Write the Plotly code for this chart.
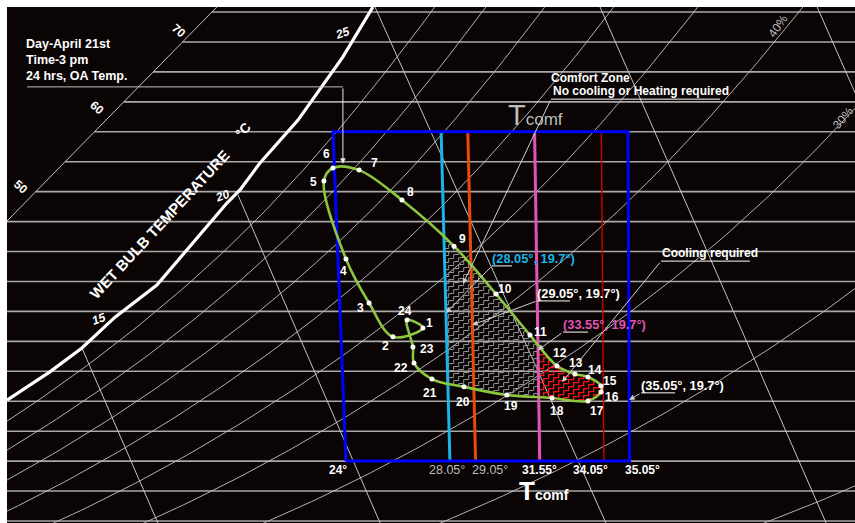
import numpy as np
import plotly.graph_objects as go

# ---------------- chart data ----------------
# Hourly outdoor-air states for April 21st (dry-bulb °C, humidity grid units)
hours = list(range(1, 25))
oa_db = [27.00, 25.83, 24.90, 24.00, 23.14, 23.49, 24.51, 26.18, 28.21, 29.85, 31.17, 32.22,
         32.92, 33.43, 33.94, 33.94, 33.43, 32.03, 30.27, 28.60, 27.35, 26.65, 26.61, 26.38]
oa_w = [7.45, 7.15, 8.28, 9.75, 12.36, 12.79, 12.72, 11.72, 10.18, 8.58, 7.21, 6.18,
        5.91, 5.81, 5.51, 5.31, 5.01, 5.11, 5.21, 5.48, 5.74, 6.28, 6.81, 7.71]

# comfort-zone dry-bulb limits and humidity limits of the box
comfort_db = [24.0, 28.05, 29.05, 31.55, 34.05, 35.05]
comfort_w = [3.0, 14.0]
comfort_tick_text = ["24°", "28.05°", "29.05°", "31.55°", "34.05°", "35.05°"]

# horizontal humidity-ratio grid
hum_lines = list(range(1, 19))

# relative-humidity curves of the background chart
rh_levels = [0.1, 0.2, 0.3, 0.4, 0.5, 0.6, 0.7, 0.8, 0.9]

# enthalpy scale
enthalpy_scale_db = [10.79, 18.97]
enthalpy_scale_w = [11.02, 18.17]
enthalpy_labels = ["50", "60", "70"]
enthalpy_label_db = [11.33, 14.30, 17.49]
enthalpy_label_w = [12.16, 14.79, 17.37]

# saturation curve
sat_db = [10.79, 12.46, 13.71, 15.00, 16.63, 17.80, 19.36, 19.87, 20.65, 22.13, 22.60, 23.88, 25.05]
sat_w = [5.04, 5.98, 6.78, 7.81, 8.88, 10.05, 11.62, 12.06, 12.96, 14.39, 14.96, 16.50, 18.17]

# wet-bulb lines (start / end)
wb_start_db = [13.71, 19.79, 25.13, 33.90, 42.36]
wb_start_w = [6.78, 11.89, 18.17, 18.17, 18.17]
wb_end_db = [16.67, 25.33, 34.13, 42.71, 43.84]
wb_end_w = [0.933, 0.933, 0.933, 0.933, 15.30]
wb_labels = ["15", "20", "25"]
wb_label_db = [14.37, 19.17, 23.88]
wb_label_w = [7.75, 11.85, 17.30]

# ---------------- scales ----------------
X0, X1 = 10.79, 43.836
Y0, Y1 = 0.933, 18.168
PLOT_W, PLOT_H = 848, 516
PXC = PLOT_W / (X1 - X0)
PXW = PLOT_H / (Y1 - Y0)

# dry-bulb lines of the comfort overlay lean slightly left as humidity rises
LEAN_AT_24 = -0.04606
LEAN_SLOPE = 0.003684

# background psychrometric chart (station pressure, kPa) and its projection
P_ATM = 84.0
BG_X0, BG_XT, BG_XW = -3.420, 0.9883, 0.18667
BG_W0 = 6.014
BG_BEND_W, BG_BEND = 16.0, 0.156


def lean(t):
    return LEAN_AT_24 + LEAN_SLOPE * (t - 24.0)


def isotherm_db(t, w):
    return t + (np.asarray(w) - comfort_w[0]) * lean(t)


def to_px(t, w):
    return (np.asarray(t) - X0) * PXC, (Y1 - np.asarray(w)) * PXW


def from_px(x, y):
    return X0 + np.asarray(x) / PXC, Y1 - np.asarray(y) / PXW


def p_ws(t):
    return 0.61094 * np.exp(17.625 * t / (t + 243.04))


def chart_xy(t, w):
    # projection of (dry bulb, humidity ratio g/kg) of the background chart
    soft = 1.5 * np.log1p(np.exp((BG_BEND_W - w) / 1.5))
    return BG_X0 + BG_XT * t + BG_XW * w - BG_BEND * soft, w - BG_W0


def rh_curve(phi):
    t = np.linspace(0.0, 60.0, 241)
    pv = phi * p_ws(t)
    w = 622.0 * pv / (P_ATM - pv)
    keep = w < 32
    return chart_xy(t[keep], w[keep])


# ---------- spline used by plotly (centripetal Catmull-Rom) ----------
def make_tangent(p0, p1, p2, k):
    d1 = p0 - p1
    d2 = p2 - p1
    d1a = (d1 @ d1) ** 0.25
    d2a = (d2 @ d2) ** 0.25
    num = (d2a * d2a * d1 - d1a * d1a * d2) * k
    den1 = 3 * d2a * (d1a + d2a)
    den2 = 3 * d1a * (d1a + d2a)
    return p1 + num / den1, p1 - num / den2


def smooth_closed(P, k=1.0, n=20):
    m = len(P)
    tang = [make_tangent(P[i - 1], P[i], P[(i + 1) % m], k) for i in range(m)]
    s = np.linspace(0, 1, n, endpoint=False)[:, None]
    segs = []
    for i in range(m):
        a, b, c, d = P[i], tang[i][1], tang[(i + 1) % m][0], P[(i + 1) % m]
        segs.append((1 - s) ** 3 * a + 3 * (1 - s) ** 2 * s * b + 3 * (1 - s) * s ** 2 * c + s ** 3 * d)
    return np.vstack(segs)


def inside(poly, x, y):
    xs, ys = poly[:, 0], poly[:, 1]
    xj, yj = np.roll(xs, 1), np.roll(ys, 1)
    x = np.asarray(x)[:, None]
    y = np.asarray(y)[:, None]
    cross = ((ys > y) != (yj > y)) & (x < (xj - xs) * (y - ys) / (yj - ys + 1e-12) + xs)
    return cross.sum(axis=1) % 2 == 1


def stair_hatch(poly, xmin_fn, xmax_fn, sx=5.0, sy=4.0, gap=7.0):
    bx0, by0 = poly.min(0)
    bx1, by1 = poly.max(0)
    span = bx1 - bx0 + 2 * sx
    hx, hy = [], []
    for c in np.arange(by0 - gap, by1 + span * sy / sx + gap, gap):
        x, y = bx0 - sx, c
        path = [(x, y)]
        for _ in range(int(span / sx) + 2):
            x += sx
            path.append((x, y))
            y -= sy
            path.append((x, y))
        P = np.array(path)
        dense = []
        for a, b in zip(P[:-1], P[1:]):
            m = max(int(np.ceil(np.hypot(*(b - a)) / 0.7)), 1)
            tt = np.linspace(0, 1, m, endpoint=False)[:, None]
            dense.append(a + tt * (b - a))
        dense.append(P[-1:])
        D = np.vstack(dense)
        ok = inside(poly, D[:, 0], D[:, 1]) & (D[:, 0] >= xmin_fn(D[:, 1])) & (D[:, 0] <= xmax_fn(D[:, 1]))
        run = False
        for (px, py), flag in zip(D, ok):
            if flag:
                t, w = from_px(px, py)
                hx.append(float(t))
                hy.append(float(w))
                run = True
            elif run:
                hx.append(None)
                hy.append(None)
                run = False
        if run:
            hx.append(None)
            hy.append(None)
    return hx, hy


def isotherm_px_fn(t):
    def f(py):
        _, w = from_px(0, py)
        px, _ = to_px(isotherm_db(t, w), w)
        return px
    return f


# ---------------- figure ----------------
BG = "#0a0404"
GRID_H = "#a8a8a8"
GRID_D = "#c4c4c4"
FONT = "Liberation Sans, Arial, sans-serif"

fig = go.Figure()


def add_line(xs, ys, color, width, shape="linear"):
    fig.add_trace(go.Scatter(x=xs, y=ys, mode="lines", hoverinfo="skip",
                             line=dict(color=color, width=width, shape=shape)))


# horizontal lines start at the enthalpy scale
hx, hy = [], []
for w in hum_lines:
    t_start = enthalpy_scale_db[0] + (w - enthalpy_scale_w[0]) * (
        enthalpy_scale_db[1] - enthalpy_scale_db[0]) / (enthalpy_scale_w[1] - enthalpy_scale_w[0])
    hx += [max(X0, t_start), X1, None]
    hy += [w, w, None]
add_line(hx, hy, GRID_H, 1.6)

# relative-humidity curves
cx, cy = [], []
for phi in rh_levels:
    xs, ys = rh_curve(phi)
    cx += list(xs) + [None]
    cy += list(ys) + [None]
add_line(cx, cy, GRID_D, 0.9)

# enthalpy scale
add_line(enthalpy_scale_db, enthalpy_scale_w, GRID_D, 1.0)

# wet-bulb lines
wx, wy = [], []
for a, b, c, d in zip(wb_start_db, wb_start_w, wb_end_db, wb_end_w):
    wx += [a, c, None]
    wy += [b, d, None]
add_line(wx, wy, GRID_D, 1.0)

# saturation curve
add_line(sat_db, sat_w, "white", 3.2)

# hatch regions inside the daily loop
loop_px = np.column_stack(to_px(oa_db, oa_w))
loop_poly = smooth_closed(loop_px, 1.0)
gx, gy = stair_hatch(loop_poly, isotherm_px_fn(comfort_db[1]), isotherm_px_fn(comfort_db[3]))
add_line(gx, gy, "#9c9c9c", 1.0)
rx, ry = stair_hatch(loop_poly, isotherm_px_fn(comfort_db[3]), lambda py: np.full_like(py, 1e9))
add_line(rx, ry, "#ff1010", 1.3)

# comfort-zone dry-bulb lines
wl = np.array(comfort_w)
line_styles = {28.05: ("#1ab4e8", 3.0), 29.05: ("#e84a0c", 3.0),
               31.55: ("#e055b4", 3.0), 34.05: ("#d00000", 1.4)}
for t, (col, lw) in line_styles.items():
    add_line(list(isotherm_db(t, wl)), list(wl), col, lw)

# comfort box
bx = [isotherm_db(comfort_db[0], comfort_w[0]), isotherm_db(comfort_db[-1], comfort_w[0]),
      isotherm_db(comfort_db[-1], comfort_w[1]), isotherm_db(comfort_db[0], comfort_w[1]),
      isotherm_db(comfort_db[0], comfort_w[0])]
by = [comfort_w[0], comfort_w[0], comfort_w[1], comfort_w[1], comfort_w[0]]
add_line([float(v) for v in bx], by, "#0000ff", 3.0)

# daily outdoor-air loop
fig.add_trace(go.Scatter(x=oa_db + oa_db[:1], y=oa_w + oa_w[:1], mode="lines", hoverinfo="skip",
                         line=dict(color="#8cc63f", width=2.6, shape="spline", smoothing=1.0)))
fig.add_trace(go.Scatter(x=oa_db, y=oa_w, mode="markers", hoverinfo="skip",
                         marker=dict(color="white", size=5)))


def txt(x, y, s, size=12, color="white", bold=True, angle=0, xanchor="center",
        yanchor="middle", xshift=0, yshift=0, italic=False):
    if italic:
        s = f"<i>{s}</i>"
    if bold:
        s = f"<b>{s}</b>"
    fig.add_annotation(x=x, y=y, text=s, showarrow=False, textangle=angle,
                       font=dict(family=FONT, size=size, color=color),
                       xanchor=xanchor, yanchor=yanchor, xshift=xshift, yshift=yshift)


def arrow(xt, yt, xh, yh, color="#cfcfcf"):
    fig.add_annotation(x=xh, y=yh, ax=xt, ay=yt, axref="x", ayref="y", text="",
                       showarrow=True, arrowhead=2, arrowsize=1.1, arrowwidth=1,
                       arrowcolor=color, standoff=0)


# hour labels
label_off = [(7, -5), (-7, 9), (-9, 5), (-2, 12), (-10, 1), (-6, -14), (15, -7), (9, -8),
             (8, -7), (9, -5), (11, -3), (3, -13), (1, -11), (7, -7), (9, -5), (11, 5),
             (9, 10), (5, 13), (4, 11), (-1, 15), (-2, 14), (-13, 5), (14, 2), (-2, -9)]
for h, t, w, (dx, dy) in zip(hours, oa_db, oa_w, label_off):
    txt(t, w, str(h), size=12, xshift=dx, yshift=-dy)

# bottom temperature labels
tick_shift = [-8, -3, 14, 0, -13, 13]
tick_bold = [True, False, False, True, True, True]
for t, s, dx, b in zip(comfort_db, comfort_tick_text, tick_shift, tick_bold):
    txt(t, comfort_w[0], s, size=12.5 if not b else 12, color="white" if b else "#bdbdbd",
        bold=b, xshift=dx, yanchor="top", yshift=0)

# T comf labels
txt(30.66, 2.10, "T<span style='font-size:14px'>comf</span>", size=26, xanchor="left", yshift=-3)
txt(30.24, 14.55, "T<span style='font-size:17px'>comf</span>", size=29, color="#bdbdbd",
    bold=False, xanchor="left")

# title block
for s, w in zip(["Day-April 21st", "Time-3 pm", "24 hrs, OA Temp."], [16.93, 16.40, 15.86]):
    txt(11.45, w, s, size=12.5, xanchor="left")
add_line([11.57, 23.88], [15.50, 15.50], "#bfbfbf", 1.0)
arrow(23.88, 15.50, 23.88, 12.93, "#e8e8e8")

# chart scale labels
for s, t, w in zip(enthalpy_labels, enthalpy_label_db, enthalpy_label_w):
    txt(t, w, s, size=12, angle=40)
for s, t, w in zip(wb_labels, wb_label_db, wb_label_w):
    txt(t, w, s, size=12, angle=-20, italic=True)
txt(16.72, 10.92, "WET BULB TEMPERATURE", size=15, angle=-47)
txt(19.99, 14.03, "°C", size=13.5, angle=-47)
txt(40.84, 17.53, "40%", size=12, color="#bdbdbd", bold=False, angle=-55)
txt(43.37, 14.46, "30%", size=12, color="#bdbdbd", bold=False, angle=-50)

# callouts: text, underline start/end, underline level, arrow target
callouts = [
    ("(28.05°, 19.7°)", "#1ab4e8", 29.69, 30.47, 9.52, (comfort_db[1], 7.95)),
    ("(29.05°, 19.7°)", "white", 31.44, 32.73, 8.35, (comfort_db[2], 7.55)),
    ("(33.55°, 19.7°)", "#e055b4", 32.46, 33.43, 7.31, (comfort_db[3], 6.71)),
    ("(35.05°, 19.7°)", "white", 35.50, 36.82, 5.28, (comfort_db[5], 5.04)),
]
for s, col, x_a, x_b, w, (tt, tw) in callouts:
    txt(x_a, w, s, size=12.8, color=col, xanchor="left", yanchor="bottom", xshift=-2, yshift=-2)
    add_line([x_a, x_b], [w, w], "white", 1.0)
    arrow(x_a, w, float(isotherm_db(tt, tw)), tw)

txt(36.28, 9.68, "Cooling required", size=12, xanchor="left", yanchor="bottom", xshift=-1, yshift=-1)
add_line([36.28, 39.74], [9.68, 9.68], "white", 1.0)
arrow(36.28, 9.68, 32.42, 5.64)

txt(31.91, 15.80, "Comfort Zone", size=12, xanchor="left")
txt(31.99, 15.36, "No cooling or Heating required", size=12, xanchor="left")
add_line([31.99, 38.58], [15.09, 15.09], "white", 1.0)
arrow(31.99, 15.09, 28.56, 8.92)

fig.update_layout(
    width=855, height=523,
    margin=dict(l=7, r=0, t=7, b=0),
    paper_bgcolor="white", plot_bgcolor=BG,
    showlegend=False,
    xaxis=dict(range=[X0, X1], visible=False, fixedrange=True),
    yaxis=dict(range=[Y0, Y1], visible=False, fixedrange=True),
)
fig.write_html("out.html", config={"displayModeBar": False})
